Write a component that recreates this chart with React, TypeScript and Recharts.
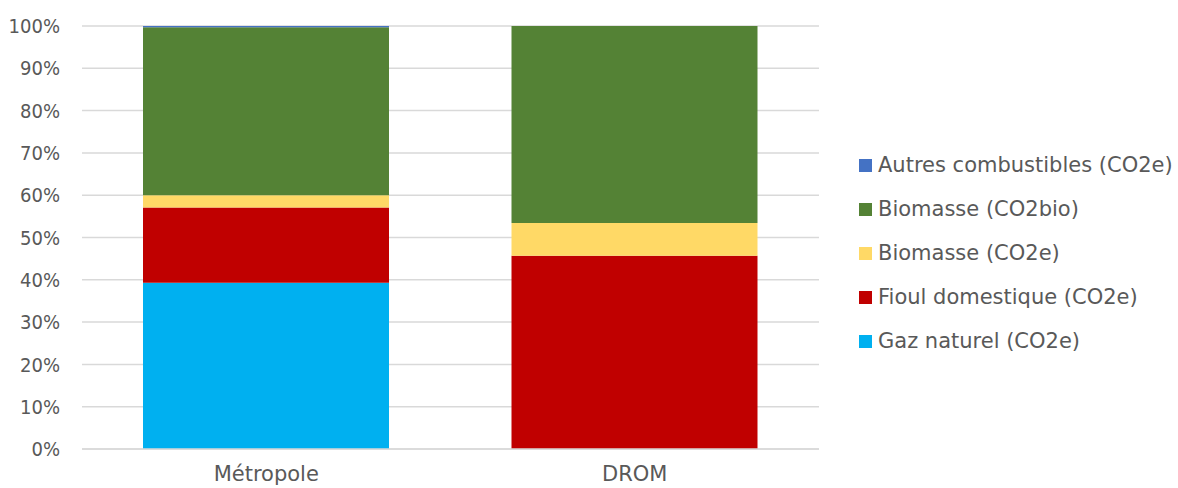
import React from "react";
import { BarChart, Bar, XAxis, YAxis, CartesianGrid, Legend } from "recharts";

// catégories et parts (%)
const categories = ["Métropole", "DROM"];
const gazNaturel = [39.3, 0];
const fioulDomestique = [17.8, 45.7];
const biomasseCO2e = [2.9, 7.7];
const biomasseCO2bio = [39.7, 46.6];
const autresCombustibles = [0.3, 0];

const yTicks = [0, 10, 20, 30, 40, 50, 60, 70, 80, 90, 100];

// ordre d'empilement (bas -> haut)
const series = [
  { key: "gaz", name: "Gaz naturel (CO2e)", color: "#00B0F0", values: gazNaturel },
  { key: "fioul", name: "Fioul domestique (CO2e)", color: "#C00000", values: fioulDomestique },
  { key: "bioe", name: "Biomasse (CO2e)", color: "#FFD966", values: biomasseCO2e },
  { key: "biobio", name: "Biomasse (CO2bio)", color: "#548235", values: biomasseCO2bio },
  { key: "autres", name: "Autres combustibles (CO2e)", color: "#4472C4", values: autresCombustibles },
];

const data = categories.map((name, i) => {
  const row: Record<string, string | number> = { name };
  series.forEach((s) => {
    row[s.key] = s.values[i];
  });
  return row;
});

const FONT_COND = "'DejaVu Sans Condensed', 'DejaVu Sans', sans-serif";
const FONT = "'DejaVu Sans', sans-serif";
const TEXT = "#595959";

function LegendBox() {
  // la légende liste les séries du haut vers le bas
  const items = [...series].reverse();
  return (
    <div style={{ paddingLeft: 40, fontFamily: FONT, fontSize: 21, color: TEXT }}>
      {items.map((s) => (
        <div key={s.key} style={{ height: 44, display: "flex", alignItems: "center" }}>
          <span
            style={{
              display: "inline-block",
              flexShrink: 0,
              width: 13,
              height: 13,
              background: s.color,
              marginRight: 6,
            }}
          />
          <span style={{ whiteSpace: "nowrap" }}>{s.name}</span>
        </div>
      ))}
    </div>
  );
}

export default function App() {
  return (
    <div style={{ position: "absolute", left: 0, top: 0 }}>
      <BarChart
        width={1178}
        height={488}
        data={data}
        margin={{ top: 26, right: 0, bottom: 0, left: 0 }}
        barSize={246}
      >
        <CartesianGrid vertical={false} stroke="#D9D9D9" strokeWidth={1.5} />
        <XAxis
          dataKey="name"
          height={39}
          axisLine={{ stroke: "#D9D9D9", strokeWidth: 1.5 }}
          tickLine={false}
          tickSize={0}
          tickMargin={17}
          tick={{ fill: TEXT, fontSize: 21, fontFamily: FONT }}
        />
        <YAxis
          width={82}
          domain={[0, 100]}
          ticks={yTicks}
          tickFormatter={(v) => `${v}%`}
          axisLine={false}
          tickLine={false}
          tickSize={0}
          tickMargin={22}
          tick={{ fill: TEXT, fontSize: 20, fontFamily: FONT_COND }}
        />
        <Legend
          layout="vertical"
          align="right"
          verticalAlign="middle"
          width={359}
          wrapperStyle={{ top: 143 }}
          content={() => <LegendBox />}
        />
        {series.map((s) => (
          <Bar
            key={s.key}
            dataKey={s.key}
            name={s.name}
            stackId="a"
            fill={s.color}
            isAnimationActive={false}
          />
        ))}
      </BarChart>
    </div>
  );
}
